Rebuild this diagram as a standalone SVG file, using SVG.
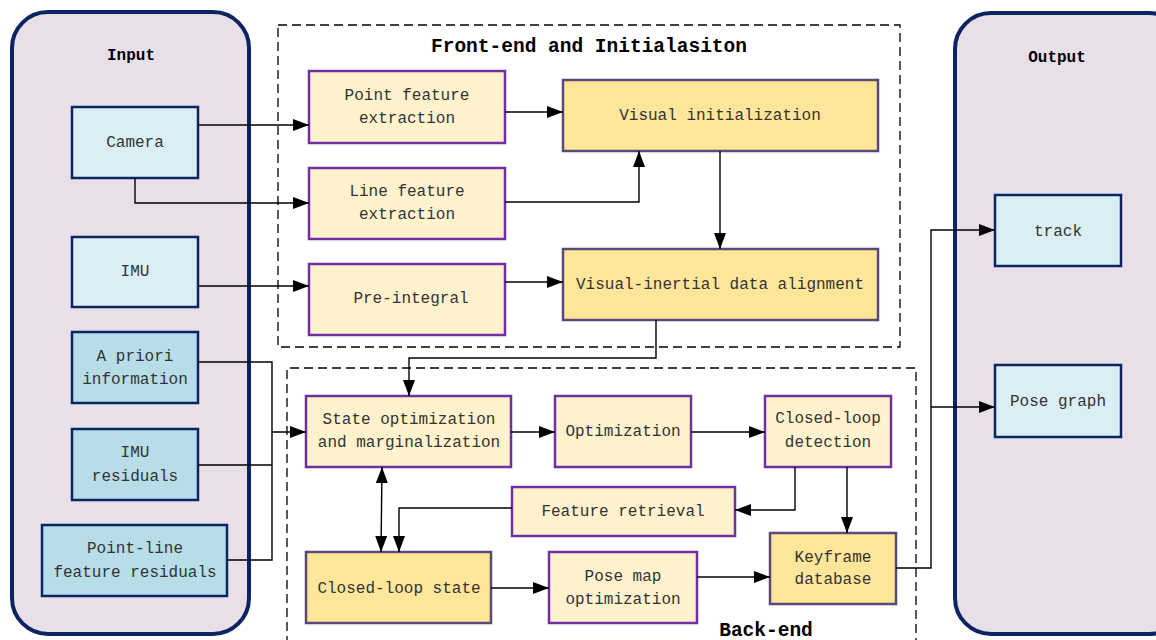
<svg xmlns="http://www.w3.org/2000/svg" width="1156" height="640" viewBox="0 0 1156 640">
<style>
text{font-family:"Liberation Mono","DejaVu Sans Mono",monospace;font-size:16px;fill:#333;text-anchor:middle;dominant-baseline:central}
.ttl{font-weight:bold;fill:#000}
.big{font-size:19.5px}
.panel{fill:#E9DFE8;stroke:#0B2462;stroke-width:4}
.in1{fill:#DAEEF3;stroke:#0B2462;stroke-width:2.5}
.in2{fill:#B7DDE8;stroke:#0B2462;stroke-width:2.5}
.lt{fill:#FFF2CC;stroke:#7030A0;stroke-width:2.5}
.dk{fill:#FFE699;stroke:#5A4A7A;stroke-width:2.5}
.dash{fill:none;stroke:#000;stroke-width:1.3;stroke-dasharray:9,5}
.c{fill:none;stroke:#000;stroke-width:1.4}
</style>
<defs>
<marker id="ah" viewBox="0 0 16 12" refX="16" refY="6" markerWidth="16" markerHeight="12" markerUnits="userSpaceOnUse" orient="auto-start-reverse">
<path d="M0,0 L16,6 L0,12 Z" fill="#000"/>
</marker>
</defs>
<rect width="1156" height="640" fill="#fff"/>
<g id="input-panel">
<rect class="panel" x="12" y="12" width="237" height="622" rx="36"/>
<text class="ttl" x="131" y="56">Input</text>
</g>
<g id="output-panel">
<rect class="panel" x="955" y="13" width="230" height="621" rx="36"/>
<text class="ttl" x="1057" y="58">Output</text>
</g>
<g id="frontend-group">
<rect class="dash" x="278" y="25" width="622" height="322"/>
<text class="ttl big" x="589" y="47">Front-end and Initialasiton</text>
</g>
<g id="backend-group">
<path class="dash" d="M287,645 V368 H916 V645"/>
<text class="ttl big" x="766" y="631">Back-end</text>
</g>
<g id="camera"><rect class="in1" x="72" y="107" width="126" height="71"/><text x="135" y="143">Camera</text></g>
<g id="imu"><rect class="in1" x="72" y="237" width="126" height="70"/><text x="135" y="272">IMU</text></g>
<g id="apriori"><rect class="in2" x="72" y="332" width="126" height="71"/><text x="135" y="357">A priori</text><text x="135" y="380">information</text></g>
<g id="imu-res"><rect class="in2" x="72" y="429" width="126" height="71"/><text x="135" y="453">IMU</text><text x="135" y="477">residuals</text></g>
<g id="pl-res"><rect class="in2" x="42" y="525" width="185" height="71"/><text x="135" y="549">Point-line</text><text x="135" y="573">feature residuals</text></g>
<g id="point-feat"><rect class="lt" x="309" y="71" width="196" height="72"/><text x="407" y="96">Point feature</text><text x="407" y="119">extraction</text></g>
<g id="line-feat"><rect class="lt" x="309" y="168" width="196" height="71"/><text x="407" y="192">Line feature</text><text x="407" y="215">extraction</text></g>
<g id="pre-int"><rect class="lt" x="309" y="264" width="196" height="71"/><text x="411" y="299">Pre-integral</text></g>
<g id="vis-init"><rect class="dk" x="563" y="80" width="315" height="71"/><text x="720" y="116">Visual initialization</text></g>
<g id="vi-align"><rect class="dk" x="563" y="249" width="315" height="71"/><text x="720" y="285">Visual-inertial data alignment</text></g>
<g id="state-opt"><rect class="lt" x="306" y="396" width="205" height="71"/><text x="409" y="420">State optimization</text><text x="409" y="443">and marginalization</text></g>
<g id="optim"><rect class="lt" x="555" y="396" width="136" height="71"/><text x="623" y="432">Optimization</text></g>
<g id="cl-detect"><rect class="lt" x="765" y="396" width="126" height="71"/><text x="828" y="419">Closed-loop</text><text x="828" y="443">detection</text></g>
<g id="feat-retr"><rect class="lt" x="512" y="487" width="223" height="49"/><text x="623" y="512">Feature retrieval</text></g>
<g id="cl-state"><rect class="dk" x="306" y="552" width="185" height="71"/><text x="399" y="589">Closed-loop state</text></g>
<g id="pose-map"><rect class="lt" x="549" y="552" width="148" height="71"/><text x="623" y="577">Pose map</text><text x="623" y="600">optimization</text></g>
<g id="keyframe"><rect class="dk" x="770" y="533" width="126" height="71"/><text x="833" y="558">Keyframe</text><text x="833" y="580">database</text></g>
<g id="track"><rect class="in1" x="995" y="195" width="126" height="71"/><text x="1058" y="232">track</text></g>
<g id="pose-graph"><rect class="in1" x="995" y="365" width="126" height="72"/><text x="1058" y="402">Pose graph</text></g>
<g id="connectors">
<path class="c" d="M198,125 H309" marker-end="url(#ah)"/>
<path class="c" d="M135,178 V203 H309" marker-end="url(#ah)"/>
<path class="c" d="M198,286 H309" marker-end="url(#ah)"/>
<path class="c" d="M505,112 H563" marker-end="url(#ah)"/>
<path class="c" d="M505,202 H639 V151" marker-end="url(#ah)"/>
<path class="c" d="M720,151 V249" marker-end="url(#ah)"/>
<path class="c" d="M505,282 H563" marker-end="url(#ah)"/>
<path class="c" d="M656,320 V358 H409 V396" marker-end="url(#ah)"/>
<path class="c" d="M198,362 H272 V560 H227 M198,465 H272"/>
<path class="c" d="M272,432 H306" marker-end="url(#ah)"/>
<path class="c" d="M511,432 H555" marker-end="url(#ah)"/>
<path class="c" d="M691,432 H765" marker-end="url(#ah)"/>
<path class="c" d="M795,467 V510 H735" marker-end="url(#ah)"/>
<path class="c" d="M847,467 V533" marker-end="url(#ah)"/>
<path class="c" d="M512,508 H399 V552" marker-end="url(#ah)"/>
<path class="c" d="M382,467 L381,552" marker-start="url(#ah)" marker-end="url(#ah)"/>
<path class="c" d="M491,588 H549" marker-end="url(#ah)"/>
<path class="c" d="M697,577 H770" marker-end="url(#ah)"/>
<path class="c" d="M896,568 H931 V230 H995" marker-end="url(#ah)"/>
<path class="c" d="M931,407 H995" marker-end="url(#ah)"/>
</g>
</svg>
